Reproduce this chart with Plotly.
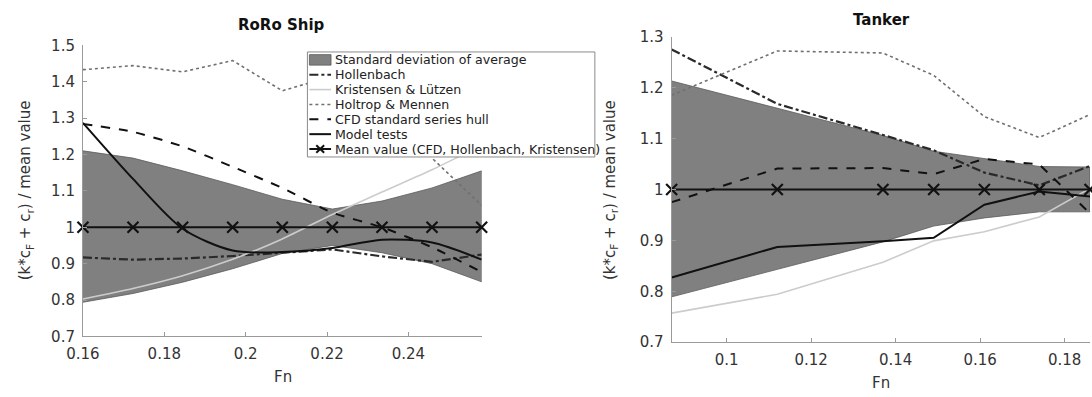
import plotly.graph_objects as go

# ---------------- data: RoRo Ship ----------------
fn_roro = [0.16, 0.1723, 0.1845, 0.1968, 0.209, 0.2213, 0.2335, 0.2458, 0.258]
std_up_roro = [1.21, 1.19, 1.155, 1.117, 1.077, 1.05, 1.072, 1.108, 1.155]
std_lo_roro = [0.794, 0.818, 0.849, 0.886, 0.928, 0.95, 0.93, 0.9, 0.85]
hollenbach_roro = [0.917, 0.911, 0.914, 0.921, 0.93, 0.939, 0.92, 0.905, 0.925]
kristensen_roro = [0.803, 0.832, 0.867, 0.912, 0.968, 1.035, 1.097, 1.158, 1.225]
holtrop_roro = [1.433, 1.444, 1.427, 1.458, 1.375, 1.415, 1.43, 1.19, 1.06]
cfd_roro = [1.284, 1.262, 1.222, 1.166, 1.108, 1.04, 1.0, 0.945, 0.877]
model_roro = [1.287, 1.133, 0.996, 0.936, 0.932, 0.943, 0.966, 0.958, 0.911]
mean_roro = [1, 1, 1, 1, 1, 1, 1, 1, 1]

# ---------------- data: Tanker ----------------
fn_tank = [0.087, 0.112, 0.137, 0.149, 0.161, 0.174, 0.186]
std_up_tank = [1.213, 1.16, 1.106, 1.075, 1.06, 1.045, 1.044]
std_lo_tank = [0.789, 0.843, 0.897, 0.928, 0.944, 0.956, 0.956]
hollenbach_tank = [1.275, 1.168, 1.107, 1.077, 1.033, 1.008, 1.046]
kristensen_tank = [0.757, 0.794, 0.857, 0.899, 0.917, 0.946, 1.002]
holtrop_tank = [1.185, 1.272, 1.268, 1.224, 1.143, 1.102, 1.147]
cfd_tank = [0.975, 1.041, 1.042, 1.03, 1.06, 1.049, 0.953]
model_tank = [0.827, 0.887, 0.898, 0.905, 0.97, 0.996, 0.986]
mean_tank = [1, 1, 1, 1, 1, 1, 1]

# ticks
roro_xticks = [0.16, 0.18, 0.2, 0.22, 0.24]
roro_xticktext = ["0.16", "0.18", "0.2", "0.22", "0.24"]
roro_yticks = [0.7, 0.8, 0.9, 1.0, 1.1, 1.2, 1.3, 1.4, 1.5]
roro_yticktext = ["0.7", "0.8", "0.9", "1", "1.1", "1.2", "1.3", "1.4", "1.5"]
tank_xticks = [0.1, 0.12, 0.14, 0.16, 0.18]
tank_xticktext = ["0.1", "0.12", "0.14", "0.16", "0.18"]
tank_yticks = [0.7, 0.8, 0.9, 1.0, 1.1, 1.2, 1.3]
tank_yticktext = ["0.7", "0.8", "0.9", "1", "1.1", "1.2", "1.3"]

legend_names = ["Standard deviation of average", "Hollenbach", "Kristensen & Lützen",
                "Holtrop & Mennen", "CFD standard series hull", "Model tests",
                "Mean value (CFD, Hollenbach, Kristensen)"]

FONT = "DejaVu Sans"
W, H = 1092, 397

# styles per series
BAND_FILL = "#808080"
STY = {
    "hol": dict(color="#2a2a2a", width=2.2, dash="dashdot"),
    "kri": dict(color="#cccccc", width=1.6, dash="solid"),
    "hot": dict(color="#707070", width=1.6, dash="dot"),
    "cfd": dict(color="#111111", width=2, dash="dash"),
    "mod": dict(color="#111111", width=2, dash="solid"),
    "mean": dict(color="#111111", width=2, dash="solid"),
}

fig = go.Figure()


def add_panel(fn, up, lo, hol, kri, hot, cfd, mod, mean, xa, ya, smooth):
    shape = "spline" if smooth else "linear"
    fig.add_trace(go.Scatter(
        x=fn + fn[::-1], y=up + lo[::-1], fill="toself", fillcolor=BAND_FILL,
        line=dict(color="#5a5a5a", width=0.8), mode="lines", xaxis=xa, yaxis=ya))
    fig.add_trace(go.Scatter(x=fn, y=hol, mode="lines", line=STY["hol"], xaxis=xa, yaxis=ya))
    fig.add_trace(go.Scatter(x=fn, y=kri, mode="lines",
                             line=dict(**STY["kri"], shape=shape, smoothing=0.6), xaxis=xa, yaxis=ya))
    fig.add_trace(go.Scatter(x=fn, y=hot, mode="lines", line=STY["hot"], xaxis=xa, yaxis=ya))
    fig.add_trace(go.Scatter(x=fn, y=cfd, mode="lines",
                             line=dict(**STY["cfd"], shape=shape, smoothing=0.6), xaxis=xa, yaxis=ya))
    fig.add_trace(go.Scatter(x=fn, y=mod, mode="lines",
                             line=dict(**STY["mod"], shape=shape, smoothing=0.8), xaxis=xa, yaxis=ya))
    fig.add_trace(go.Scatter(
        x=fn, y=mean, mode="lines+markers", line=STY["mean"],
        marker=dict(symbol="x-thin", size=11, line=dict(color="#111111", width=2.2)),
        cliponaxis=False, xaxis=xa, yaxis=ya))


add_panel(fn_roro, std_up_roro, std_lo_roro, hollenbach_roro, kristensen_roro, holtrop_roro,
          cfd_roro, model_roro, mean_roro, "x", "y", True)
add_panel(fn_tank, std_up_tank, std_lo_tank, hollenbach_tank, kristensen_tank, holtrop_tank,
          cfd_tank, model_tank, mean_tank, "x2", "y2", False)

axis_common = dict(showgrid=False, zeroline=False, showline=True, linecolor="#9a9a9a",
                   linewidth=1, ticks="inside", ticklen=4, tickcolor="#9a9a9a",
                   ticklabelstandoff=4,
                   tickfont=dict(family=FONT, size=15, color="#333333"))

fig.update_layout(
    width=W, height=H, margin=dict(l=0, r=0, t=0, b=0),
    paper_bgcolor="white", plot_bgcolor="white", showlegend=False,
    xaxis=dict(domain=[67 / W, 472 / W], range=[0.16, 0.258], tickvals=roro_xticks,
               ticktext=roro_xticktext, anchor="y", **axis_common),
    yaxis=dict(domain=[1 - 343 / H, 1 - 38 / H], range=[0.7, 1.5], tickvals=roro_yticks,
               ticktext=roro_yticktext, anchor="x", **axis_common),
    xaxis2=dict(domain=[665 / W, 1090 / W], range=[0.087, 0.186], tickvals=tank_xticks,
                ticktext=tank_xticktext, anchor="y2", **axis_common),
    yaxis2=dict(domain=[1 - 349 / H, 1 - 29 / H], range=[0.7, 1.3], tickvals=tank_yticks,
                ticktext=tank_yticktext, anchor="x2", **axis_common),
)

# ---------------- manual legend (paper coords in pixels) ----------------
def px(x):
    return x / W


def py(y):
    return 1 - y / H


LX0, LX1, LY0, LY1 = 295, 587, 45, 155
fig.add_shape(type="rect", xref="paper", yref="paper", x0=px(LX0), x1=px(LX1),
              y0=py(LY1), y1=py(LY0), fillcolor="white", line=dict(color="#8a8a8a", width=1),
              layer="above")
row0, rstep = 53.3, 15.56
sx0, sx1, tx = 297, 319, 321
legend_styles = [None, STY["hol"], STY["kri"], STY["hot"], STY["cfd"], STY["mod"], STY["mean"]]
for i, name in enumerate(legend_names):
    yc = row0 + i * rstep
    if i == 0:
        fig.add_shape(type="rect", xref="paper", yref="paper", x0=px(sx0), x1=px(sx1),
                      y0=py(yc + 5.5), y1=py(yc - 5.5), fillcolor=BAND_FILL,
                      line=dict(color="#5a5a5a", width=0.8), layer="above")
    else:
        st = legend_styles[i]
        fig.add_shape(type="line", xref="paper", yref="paper", x0=px(sx0), x1=px(sx1),
                      y0=py(yc), y1=py(yc), line=dict(color=st["color"], width=st["width"],
                                                      dash=st["dash"]), layer="above")
        if i == 6:
            cx = (sx0 + sx1) / 2
            for d in (1, -1):
                fig.add_shape(type="line", xref="paper", yref="paper", x0=px(cx - 4),
                              x1=px(cx + 4), y0=py(yc - 4 * d), y1=py(yc + 4 * d),
                              line=dict(color="#111111", width=2), layer="above")
    fig.add_annotation(xref="paper", yref="paper", x=px(tx), y=py(yc), text=name,
                       showarrow=False, xanchor="left", yanchor="middle",
                       font=dict(family=FONT, size=12.6, color="#222222"))

ann_font = dict(family=FONT, size=15, color="#333333")
title_font = dict(family=FONT, size=15, color="#111111")
annotations = [
    dict(text="<b>RoRo Ship</b>", x=269, y=17, font=title_font),
    dict(text="<b>Tanker</b>", x=878, y=11, font=title_font),
    dict(text="Fn", x=270, y=385, font=ann_font),
    dict(text="Fn", x=878, y=392, font=ann_font),
    dict(text="(k*c<sub>F</sub> + c<sub>r</sub>) / mean value", x=9, y=190,
         textangle=-90, font=ann_font),
    dict(text="(k*c<sub>F</sub> + c<sub>r</sub>) / mean value", x=603, y=190,
         textangle=-90, font=ann_font),
]
for a in annotations:
    a["x"] = px(a["x"])
    a["y"] = py(a["y"])
    fig.add_annotation(xref="paper", yref="paper", showarrow=False,
                       xanchor="center", yanchor="middle", **a)

fig.write_html("out.html")
